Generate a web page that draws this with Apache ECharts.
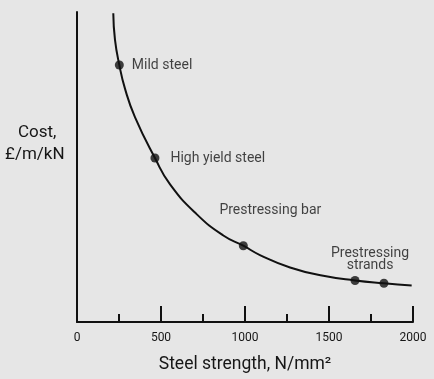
<!DOCTYPE html>
<html><head><meta charset="utf-8">
<script src="https://cdn.jsdelivr.net/npm/echarts@6/dist/echarts.min.js"></script>
<style>html,body{margin:0;padding:0;background:#e6e6e6}#c{width:434px;height:379px}</style>
</head><body><div id="c"></div>
<script>
// Curve (steel strength N/mm², relative cost)
const curveX = [216, 226, 252, 286, 345, 464, 554, 712, 871, 990, 1089, 1268, 1466, 1655, 1827, 1992];
const curveY = [99.6, 91.1, 82.9, 75.2, 66.1, 52.9, 44.4, 34.8, 27.9, 24.6, 21.6, 17.6, 14.9, 13.4, 12.5, 11.8];
// Steel types
const steelNames = ['Mild steel', 'High yield steel', 'Prestressing bar', 'Prestressing\nstrands', ''];
const steelX = [252, 464, 990, 1655, 1827];
const steelY = [82.9, 52.9, 24.6, 13.4, 12.5];
const xTicks = [0, 500, 1000, 1500, 2000];

const font = 'Roboto';
const txt = '#161616';
const labelCfg = [
  {position: 'right', distance: 8, offset: [0, 0]},
  {position: 'right', distance: 11, offset: [0, 0]},
  {position: 'inside', offset: [27, -35]},
  {position: 'inside', offset: [15, -21], lineHeight: 12},
  {show: false}
];
const xMin = xTicks[0], xMax = xTicks[xTicks.length - 1];
const chart = echarts.init(document.getElementById('c'));
chart.setOption({
  backgroundColor: '#e6e6e6',
  animation: false,
  grid: {left: 77, right: 21, top: 12, bottom: 53},
  xAxis: [{
    type: 'value', min: xMin, max: xMax, interval: 500,
    axisLine: {show: true, lineStyle: {color: '#111', width: 2}},
    axisTick: {show: true, inside: true, length: 16, lineStyle: {color: '#111', width: 2}},
    splitLine: {show: false},
    axisLabel: {color: txt, fontFamily: font, fontSize: 12, margin: 10, formatter: v => String(v)},
    name: 'Steel strength, N/mm²', nameLocation: 'middle', nameGap: 34,
    nameTextStyle: {color: txt, fontFamily: font, fontSize: 17.5}
  }, {
    type: 'value', min: xMin, max: xMax, interval: 250, position: 'bottom',
    axisLine: {show: false},
    axisTick: {show: true, inside: true, length: 8, lineStyle: {color: '#111', width: 2}},
    axisLabel: {show: false}, splitLine: {show: false}
  }],
  yAxis: {
    type: 'value', min: 0, max: 100,
    axisLine: {show: true, lineStyle: {color: '#111', width: 2}},
    axisTick: {show: false}, axisLabel: {show: false}, splitLine: {show: false}
  },
  graphic: [
    {type: 'text', left: 18, top: 124, style: {text: 'Cost,', font: '17px Roboto', fill: txt}},
    {type: 'text', left: 5, top: 146, style: {text: '£/m/kN', font: '17px Roboto', fill: txt}}
  ],
  series: [
    {
      type: 'line', smooth: 0.5, symbol: 'none',
      data: curveX.map((x, i) => [x, curveY[i]]),
      lineStyle: {color: '#111', width: 2}
    },
    {
      type: 'scatter', symbolSize: 9, itemStyle: {color: '#111'},
      data: steelX.map((x, i) => ({
        value: [x, steelY[i]], name: steelNames[i],
        label: Object.assign({show: true, formatter: '{b}', color: txt, fontFamily: font, fontSize: 14, align: i >= 2 ? 'center' : 'left'}, labelCfg[i])
      }))
    }
  ]
});
</script></body></html>
